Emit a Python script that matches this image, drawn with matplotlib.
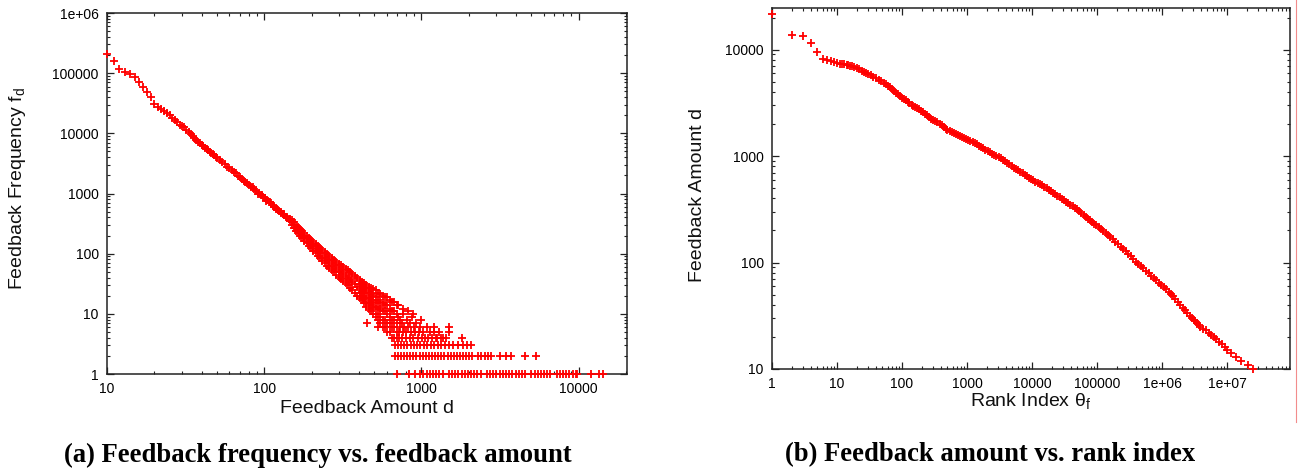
import math
import matplotlib
matplotlib.use('Agg')
import matplotlib.pyplot as plt
from matplotlib.ticker import FixedLocator, LogLocator, NullFormatter, FuncFormatter
from matplotlib.lines import Line2D

# ---- (a) feedback frequency f_d vs feedback amount d ----
# straight part of the curve, one point per amount
line_d = [10, 11, 12, 13, 14, 15, 16, 17, 18, 19, 20, 21, 22, 23, 24, 25, 26, 27, 28, 29, 30,
          31, 32, 33, 34, 35, 36, 37, 38, 39, 40, 41, 42, 43, 44, 45, 46, 47, 48, 49, 50,
          52, 54, 56, 58, 60, 62, 64, 66, 68, 70, 72, 74, 76, 78, 80,
          83, 85, 86, 89, 91, 92, 95, 97, 98, 101, 103, 104, 107, 109, 110, 113, 115, 116,
          119, 121, 122, 125, 127, 128, 131, 133, 134, 137, 139, 140, 143, 145, 146]
line_f = [205000, 158000, 117000, 105000, 96000, 87000, 72000, 60000, 49000, 40000, 31000,
          27500, 25000, 23500, 22000, 19800, 18200, 16500, 15500, 14000, 13200,
          12600, 11560, 10650, 9830, 9100, 8430, 7830, 7300, 6800, 6430, 6090, 5780, 5480,
          5210, 4960, 4720, 4500, 4300, 4110, 3930,
          3640, 3310, 3060, 2790, 2620, 2440, 2280, 2160, 1990, 1870, 1755, 1620, 1556, 1470, 1390,
          1281, 1260, 1210, 1098, 1000, 1020, 930, 940, 887, 830, 760, 777, 729, 720, 700, 644,
          590, 607, 560, 560, 541, 513, 470, 500, 461, 455, 438, 405, 385, 397, 378, 375, 361]

# widening cloud: amount -> frequencies seen at that amount
cloud = {
    150: [331, 363, 302], 155: [300, 333, 270], 160: [272, 305, 242], 165: [247, 277, 220],
    170: [226, 256, 199], 175: [207, 238, 180], 180: [190, 218, 165], 186: [172, 199, 148],
    192: [157, 184, 134], 198: [145, 170, 124], 205: [132, 157, 111], 212: [121, 145, 101],
    219: [111, 133, 92], 226: [102, 124, 84], 234: [93, 115, 76], 242: [86, 106, 70],
    250: [78, 97, 63], 259: [72, 91, 57], 268: [67, 84, 53], 277: [62, 79, 49],
    287: [58, 74, 45], 297: [53, 68, 41], 307: [50, 65, 38], 318: [46, 60, 35],
    329: [42, 55, 32], 340: [40, 53, 30], 352: [37, 50, 27], 364: [34, 46, 25],
    377: [31, 43, 22], 390: [28, 39, 20], 404: [26, 37, 18, 31, 22], 418: [24, 34, 17, 29, 20],
    432: [22, 32, 15, 27, 18], 447: [20, 30, 13, 25, 16], 451: [7], 462: [18, 28, 12, 23, 15],
    478: [17, 27, 11, 21, 14], 495: [16, 26, 10, 20, 13], 512: [15, 25, 9, 19, 12],
    530: [13, 22, 8, 17, 10, 6], 548: [12, 21, 7, 16, 9], 567: [11, 20, 6, 15, 8],
    587: [11, 19, 6, 14, 8], 607: [10, 19, 5, 14, 7], 628: [9, 17, 5, 12, 7],
    650: [8, 16, 4, 11, 6], 672: [8, 16, 4, 11, 6], 695: [7, 14, 4, 10, 5],
}

# sparse points with small counts (4 and more)
tail_pairs = [(705, 9), (705, 14), (720, 4), (720, 5), (735, 6), (735, 8), (750, 4), (750, 7),
              (765, 5), (765, 10), (780, 6), (795, 4), (795, 5), (810, 8), (825, 6), (840, 4),
              (840, 7), (855, 5), (870, 9), (885, 4), (900, 6), (915, 5), (930, 7), (950, 4),
              (965, 5), (985, 6), (1005, 4), (1030, 5), (1055, 4), (1080, 6), (1105, 4),
              (1135, 5), (1165, 4), (1195, 5), (1230, 4), (1265, 4), (1300, 5), (1340, 4),
              (1380, 4), (1440, 4), (1490, 6), (1490, 5), (1820, 4), (760, 12), (820, 11),
              (880, 10), (1000, 8), (1200, 6)]

# amounts that occur exactly 3, 2 and 1 times
band3_d = [683, 714, 746, 779, 814, 864, 902, 943, 985, 1045, 1092, 1158, 1210, 1283,
           1341, 1422, 1508, 1599, 1720, 1825, 1935, 2052]
band2_d = [683, 714, 746, 779, 814, 850, 890, 930, 975, 1020, 1068, 1115, 1170, 1225, 1280,
           1340, 1400, 1465, 1535, 1605, 1680, 1760, 1840, 1925, 2015, 2110, 2300, 2410,
           2520, 2640, 2760, 3180, 3430, 3720, 4590, 5320]
band1_d = [700, 830, 916, 982, 1030, 1080, 1131, 1185, 1241, 1300, 1362, 1495, 1566, 1640,
           1718, 1800, 1886, 1975, 2069, 2168, 2271, 2379, 2611, 2735, 2865, 3001, 3144,
           3294, 3450, 3614, 3786, 3967, 4155, 4353, 4560, 5004, 5242, 5492, 5753, 6027,
           6314, 6614, 7259, 7604, 7966, 8345, 8742, 9158, 9594, 9780, 11900, 13500, 14200]

# ---- (b) feedback amount d vs rank index ----
rank_r = [1, 2, 3, 4, 5, 6, 7, 8, 9, 10, 11, 12, 13, 14, 15, 16, 17, 18, 20, 22, 24, 26, 28,
          30, 33, 36, 40, 44, 48, 52, 56, 60, 65, 70, 75, 80, 86, 92, 100, 107, 114, 122, 130,
          140, 150, 160, 170, 182, 195, 210, 225, 240, 260, 280, 300, 325, 350, 380, 410, 440,
          470, 500, 540, 580, 620, 670, 720, 780, 840, 900, 970, 1050, 1130, 1220, 1320, 1420,
          1530, 1650, 1780, 1920, 2070, 2240, 2420, 2610, 2820, 3050, 3300, 3560, 3850, 4150,
          4500, 4850, 5250, 5650, 6100, 6600, 7150, 7700, 8350, 9000, 9700, 10500, 11300,
          12200, 13200, 14300, 15400, 16700, 18000, 19500, 21000, 22700, 24500, 26500, 28600,
          30900, 33400, 36000, 39000, 42000, 45400, 49000, 53000, 57000, 62000, 67000, 72000,
          78000, 84000, 91000, 98000, 106000, 115000, 125000, 136000, 148000, 160000, 175000,
          190000, 210000, 230000, 250000, 275000, 300000, 330000, 360000, 395000, 430000,
          470000, 515000, 565000, 620000, 680000, 745000, 815000, 895000, 980000, 1070000,
          1160000, 1260000, 1370000, 1480000, 1610000, 1750000, 1900000, 2070000, 2250000,
          2450000, 2650000, 2880000,
          3100000, 3250000, 3500000, 3670000, 3900000, 4300000, 4700000, 5300000, 5750000,
          6200000, 6800000, 7600000, 8300000, 9300000, 10000000, 11700000, 13500000,
          16500000, 21000000, 25000000]
rank_d = [21400, 13800, 13300, 11500, 9440, 8200, 7950, 7750, 7620, 7500, 7400, 7320, 7250,
          7180, 7100, 7020, 6950, 6880, 6700, 6520, 6350, 6200, 6050, 5900, 5750, 5580, 5380,
          5220, 5100, 4900, 4720, 4580, 4420, 4250, 4100, 3950, 3800, 3660, 3520, 3420, 3340,
          3250, 3120, 3000, 2930, 2880, 2840, 2760, 2680, 2600, 2500, 2420, 2320, 2240, 2170,
          2120, 2080, 2020, 1960, 1880, 1810, 1760, 1720, 1690, 1660, 1620, 1580, 1540, 1500,
          1470, 1440, 1420, 1390, 1350, 1315, 1285, 1255, 1220, 1185, 1150, 1115, 1085, 1055,
          1030, 1005, 980, 955, 925, 895, 865, 835, 808, 780, 757, 735, 712, 690, 668, 648,
          628, 610, 592, 575, 560, 545, 530, 515, 500, 480, 465, 450, 437, 423, 410, 397, 385,
          372, 360, 350, 338, 326, 315, 302, 290, 278, 268, 259, 249, 240, 231, 223, 215, 207,
          199, 191, 183, 174, 165, 157, 148, 140, 134, 127, 120, 114, 108, 102, 97.5, 92.5,
          88, 83.4, 79.2, 75.1, 71.4, 67.9, 64.4, 61.2, 59, 56.1, 53.4, 50.7, 48.4, 45, 42.5,
          40.1, 37.8, 35.6, 33.6, 31.8, 30.1,
          29, 28, 27, 26, 25, 24, 23, 22, 21, 20, 19, 18, 17, 16, 15, 14, 13, 12, 11, 10]

a_ticks_x = [10, 100, 1000, 10000]
a_ticks_y = [1, 10, 100, 1000, 10000, 100000, 1000000]
b_ticks_x = [1, 10, 100, 1000, 10000, 100000, 1000000, 10000000]
b_ticks_y = [10, 100, 1000, 10000]

plt.rcParams['font.family'] = ['Liberation Sans', 'DejaVu Sans']
plt.rcParams['mathtext.fontset'] = 'custom'
plt.rcParams['mathtext.rm'] = 'Liberation Sans'

W, H = 1302, 469
fig = plt.figure(figsize=(W / 100, H / 100), dpi=100)


def box(x0, y0, x1, y1):
    # pixel box (top-left origin) -> figure fraction rect
    return [x0 / W, 1 - y1 / H, (x1 - x0) / W, (y1 - y0) / H]


def tick_text(v, pos=None):
    if v >= 1e6:
        return '1e+%02d' % round(math.log10(v))
    return '%d' % round(v)


def style(ax, xt, yt):
    ax.set_xscale('log')
    ax.set_yscale('log')
    for axis, t in ((ax.xaxis, xt), (ax.yaxis, yt)):
        axis.set_major_locator(FixedLocator(t))
        axis.set_major_formatter(FuncFormatter(tick_text))
        axis.set_minor_locator(LogLocator(base=10, subs=range(2, 10), numticks=30))
        axis.set_minor_formatter(NullFormatter())
    ax.tick_params(which='both', direction='in', top=True, right=True, color='#222222')
    ax.tick_params(which='major', length=5, width=0.9, labelsize=10, pad=6)
    ax.tick_params(which='minor', length=2.5, width=0.8)
    for s in ax.spines.values():
        s.set_linewidth(1.1)
        s.set_color('#222222')


mk = dict(linestyle='none', marker='+', color='#ff0000', markersize=6.2,
          markeredgewidth=1.3, clip_on=False, zorder=3)

# (a)
ax1 = fig.add_axes(box(107, 13, 627, 374))
cd, cf = [], []
for d, fs in cloud.items():
    cd += [d] * len(fs)
    cf += fs
ax1.plot(line_d, line_f, **mk)
ax1.plot(cd, cf, **mk)
ax1.plot([p[0] for p in tail_pairs], [p[1] for p in tail_pairs], **mk)
ax1.plot(band3_d, [3] * len(band3_d), **mk)
ax1.plot(band2_d, [2] * len(band2_d), **mk)
ax1.plot(band1_d, [1] * len(band1_d), **mk)
ax1.set_xlim(10, 20300)
ax1.set_ylim(1, 1e6)
style(ax1, a_ticks_x, a_ticks_y)

# (b)
ax2 = fig.add_axes(box(772, 8, 1290, 369))
ax2.plot(rank_r, rank_d, **mk)
ax2.set_xlim(1, 9.3e7)
ax2.set_ylim(10, 24600)
style(ax2, b_ticks_x, b_ticks_y)

lab_kw = dict(fontsize=14, color='#111111', ha='center', va='center')
fig.text(367 / W, 1 - 408 / H, 'Feedback Amount d', **lab_kw)
fig.text(18 / W, 1 - 188 / H, r'Feedback Frequency f$_\mathregular{d}$', rotation=90, **lab_kw)
fig.text(1031 / W, 1 - 402 / H, r'Rank Index θ$_\mathregular{f}$', **lab_kw)
fig.text(697 / W, 1 - 195 / H, 'Feedback Amount d', rotation=90, **lab_kw)

cap_kw = dict(fontsize=19.2, fontweight='bold', family=['Liberation Serif', 'DejaVu Serif'],
              ha='center', va='center', color='black')
fig.text(318 / W, 1 - 455 / H, '(a) Feedback frequency vs. feedback amount', **cap_kw)
fig.text(990 / W, 1 - 455 / H, '(b) Feedback amount vs. rank index', **cap_kw)

# thin page-edge line at the far right
fig.add_artist(Line2D([1296 / W, 1296 / W], [1, 1 - 422 / H], color='#f28c8c', linewidth=0.8))

fig.savefig('out.png', dpi=100)
